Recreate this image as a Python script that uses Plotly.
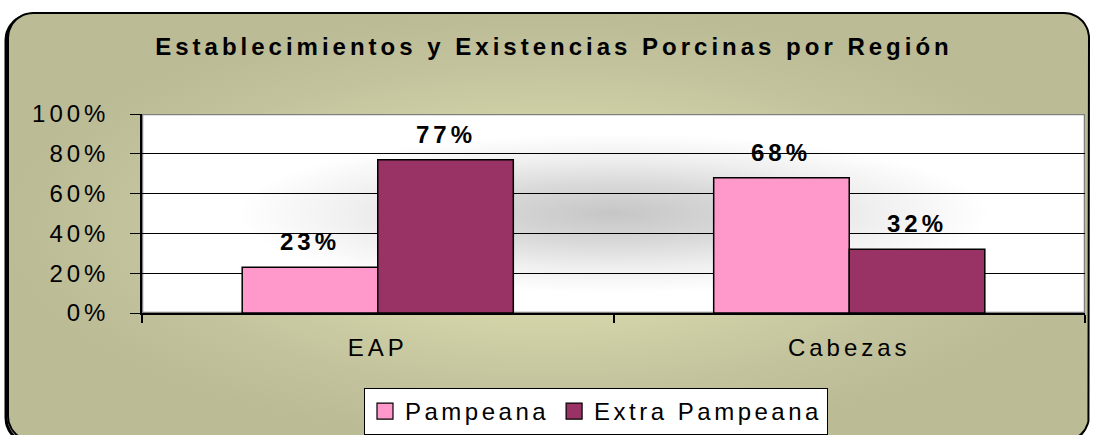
import numpy as np
import plotly.graph_objects as go

# ---------------- data ----------------
categories = ["EAP", "Cabezas"]
series_names = ["Pampeana", "Extra Pampeana"]
pampeana = [23, 68]
extra_pampeana = [77, 32]
y_tick_values = [0, 20, 40, 60, 80, 100]
y_tick_labels = ["0%", "20%", "40%", "60%", "80%", "100%"]
title_text = "Establecimientos y Existencias Porcinas por Región"

# ---------------- style ----------------
series_colors = ["#FF99CC", "#993366"]
FONT = "Liberation Sans, Arial, sans-serif"
W, H = 1094, 435
PL, PR, PT, PB = 142, 1085, 114, 313          # plot area in pixels
dom_x = [PL / W, PR / W]
dom_y = [1 - PB / H, 1 - PT / H]
BARGAP = 0.425


def ls(t, px=4):
    return f'<span style="letter-spacing:{px}px">{t}</span>'


def rounded_rect(x0, y0, x1, y1, r, n=16):
    xs, ys = [], []
    corners = [(x1 - r, y0 + r, -90, 0), (x1 - r, y1 - r, 0, 90),
               (x0 + r, y1 - r, 90, 180), (x0 + r, y0 + r, 180, 270)]
    for cx, cy, a0, a1 in corners:
        a = np.radians(np.linspace(a0, a1, n))
        xs += list(cx + r * np.cos(a))
        ys += list(cy + r * np.sin(a))
    xs.append(xs[0]); ys.append(ys[0])
    return xs, ys


fig = go.Figure()

# frame shadow (left / bottom)
sx, sy = rounded_rect(6, 15, 1087, 443, 25)
fig.add_trace(go.Scatter(
    x=sx, y=sy, xaxis="x", yaxis="y", mode="lines",
    line=dict(color="black", width=3), hoverinfo="skip", showlegend=False))

# outer rounded frame with radial khaki gradient
fx, fy = rounded_rect(8, 13, 1089, 441, 25)
fig.add_trace(go.Scatter(
    x=fx, y=fy, xaxis="x", yaxis="y", mode="lines", fill="toself",
    line=dict(color="black", width=2),
    fillgradient=dict(type="radial", colorscale=[[0, "#E6E6BA"], [0.35, "#D8D8AC"],
                                                 [0.75, "#C3C39D"], [1, "#BBBB96"]]),
    hoverinfo="skip", showlegend=False))

# plot area background (white with grey centre)
fig.add_trace(go.Scatter(
    x=[0, 1, 1, 0, 0], y=[0, 0, 1, 1, 0], xaxis="x2", yaxis="y2",
    mode="lines", fill="toself", line=dict(color="#808080", width=2.5),
    fillgradient=dict(type="radial", colorscale=[[0, "#C6C6C6"], [0.3, "#D9D9D9"],
                                                 [0.55, "#EFEFEF"], [0.8, "#FFFFFF"],
                                                 [1, "#FFFFFF"]]),
    hoverinfo="skip", showlegend=False))

cat_labels = [ls(c) for c in categories]
for name, vals, col in zip(series_names, [pampeana, extra_pampeana], series_colors):
    fig.add_trace(go.Bar(
        x=cat_labels, y=vals, name=name, xaxis="x3", yaxis="y3",
        marker=dict(color=col, line=dict(color="black", width=1.5)),
        showlegend=False, hoverinfo="skip"))
    # legend entry with larger swatch
    fig.add_trace(go.Scatter(
        x=[None], y=[None], name=ls(name, 3.5), xaxis="x3", yaxis="y3", mode="markers",
        marker=dict(symbol="square", size=18, color=col, line=dict(color="black", width=1.2)),
        showlegend=True))

# value labels above bars
bw = (1 - BARGAP) / 2
for j, vals in enumerate([pampeana, extra_pampeana]):
    for i, v in enumerate(vals):
        fig.add_annotation(
            x=i + (j - 0.5) * bw, y=v, xref="x3", yref="y3",
            text=ls(f"{v}%"), showarrow=False, yanchor="bottom", yshift=10,
            font=dict(family=FONT, size=24, color="black", weight=700))

fig.update_layout(
    width=W, height=H, margin=dict(l=0, r=0, t=0, b=0, autoexpand=False),
    paper_bgcolor="white", plot_bgcolor="rgba(0,0,0,0)",
    font=dict(family=FONT, size=24, color="black"),
    bargap=BARGAP, bargroupgap=0, barmode="group",
    title=dict(text=ls(title_text), x=554 / W, xanchor="center", y=1 - 47 / H,
               yanchor="middle", xref="container", yref="container",
               font=dict(family=FONT, size=24, color="black", weight=700)),
    xaxis=dict(domain=[0, 1], range=[0, W], visible=False, fixedrange=True),
    yaxis=dict(domain=[0, 1], range=[H, 0], visible=False, fixedrange=True),
    xaxis2=dict(domain=dom_x, range=[0, 1], visible=False, anchor="y2", fixedrange=True),
    yaxis2=dict(domain=dom_y, range=[0, 1], visible=False, anchor="x2", fixedrange=True),
    xaxis3=dict(domain=dom_x, anchor="y3", type="category", tickson="boundaries",
                ticks="outside", ticklen=8, tickcolor="black", tickwidth=1.5,
                showline=True, linecolor="black", linewidth=2, showgrid=False,
                tickfont=dict(family=FONT, size=24, color="black"),
                ticklabelstandoff=12, fixedrange=True),
    yaxis3=dict(domain=dom_y, anchor="x3", range=[0, 100],
                tickmode="array", tickvals=y_tick_values,
                ticktext=[ls(t) for t in y_tick_labels],
                ticks="outside", ticklen=10, tickcolor="black", tickwidth=1,
                showgrid=True, gridcolor="black", gridwidth=1,
                showline=True, linecolor="black", linewidth=1.5, zeroline=False,
                tickfont=dict(family=FONT, size=24, color="black"),
                ticklabelstandoff=16, fixedrange=True),
    legend=dict(orientation="h", x=364 / W, y=1 - 388 / H, xanchor="left", yanchor="top",
                bgcolor="white", bordercolor="black", borderwidth=1,
                font=dict(family=FONT, size=24, color="black"), itemsizing="trace"),
)

fig.write_html("out.html", config={"displayModeBar": False},
               post_script="document.body.style.margin='0';document.body.style.overflow='hidden';")
